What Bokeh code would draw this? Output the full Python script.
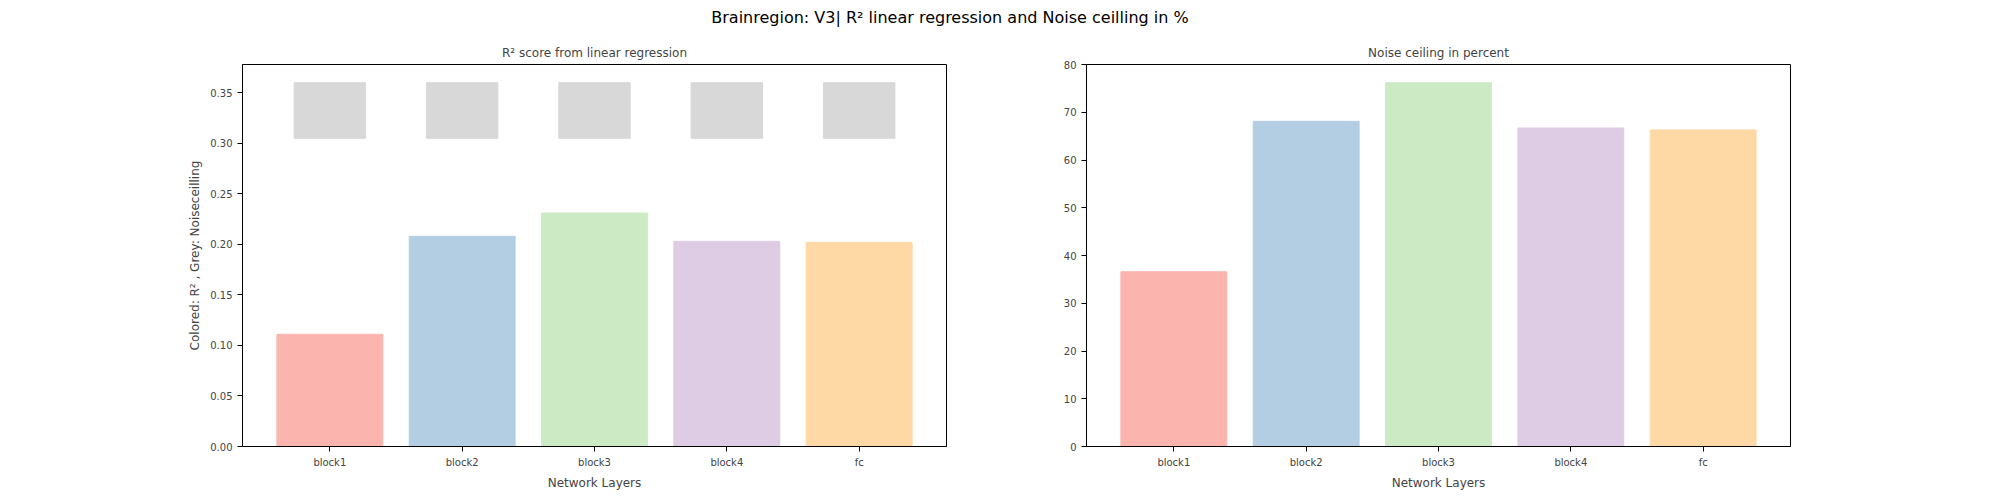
from bokeh.plotting import figure
from bokeh.layouts import column, row
from bokeh.models import Div, FixedTicker, Range1d
from bokeh.embed import file_html
from bokeh.resources import INLINE

layers = ["block1", "block2", "block3", "block4", "fc"]
r2_scores = [0.111, 0.208, 0.231, 0.203, 0.202]
nc_bottom = [0.305, 0.305, 0.305, 0.305, 0.305]
nc_top = [0.360, 0.360, 0.360, 0.360, 0.360]
noise_ceiling_pct = [36.6, 68.1, 76.2, 66.7, 66.3]
colors = ["#fbb4ae", "#b3cde3", "#ccebc5", "#decbe4", "#fed9a6"]

FONT = "DejaVu Sans"


def style(p, yticks):
    p.xgrid.visible = False
    p.ygrid.visible = False
    p.outline_line_color = "black"
    p.outline_line_width = 1
    p.x_range.range_padding = 0.064
    p.yaxis.ticker = FixedTicker(ticks=yticks)
    for ax in (p.xaxis, p.yaxis):
        ax.major_label_text_font = FONT
        ax.major_label_text_font_size = "10px"
        ax.axis_label_text_font = FONT
        ax.axis_label_text_font_size = "12px"
        ax.axis_label_text_font_style = "normal"
        ax.major_tick_out = 5
        ax.major_tick_in = 0
        ax.minor_tick_out = 0
        ax.minor_tick_in = 0
        ax.axis_line_color = "black"
    p.title.text_font = FONT
    p.title.text_font_size = "12px"
    p.title.text_font_style = "normal"
    p.title.align = "center"


p1 = figure(x_range=layers, width=996, height=454, output_backend="svg",
            toolbar_location=None, title="R² score from linear regression",
            min_border_left=242, min_border_right=50, min_border_top=24, min_border_bottom=45)
p1.y_range = Range1d(0, 0.378)
p1.vbar(x=layers, bottom=nc_bottom, top=nc_top, width=0.54, color="#d8d8d8")
p1.vbar(x=layers, top=r2_scores, width=0.8, color=colors)
p1.xaxis.axis_label = "Network Layers"
p1.yaxis.axis_label = "Colored: R² , Grey: Noiseceilling"
style(p1, [0, 0.05, 0.1, 0.15, 0.2, 0.25, 0.3, 0.35])
p1.yaxis.formatter.use_scientific = False
from bokeh.models import CustomJSTickFormatter
p1.yaxis.formatter = CustomJSTickFormatter(code="return tick.toFixed(2);")

p2 = figure(x_range=layers, width=894, height=454, output_backend="svg",
            toolbar_location=None, title="Noise ceiling in percent",
            min_border_left=90, min_border_right=100, min_border_top=24, min_border_bottom=45)
p2.y_range = Range1d(0, 80)
p2.vbar(x=layers, top=noise_ceiling_pct, width=0.8, color=colors)
p2.xaxis.axis_label = "Network Layers"
style(p2, [0, 10, 20, 30, 40, 50, 60, 70, 80])

title = Div(text="Brainregion: V3| R² linear regression and Noise ceilling in %",
            width=1890, height=28,
            styles={"text-align": "center", "font-family": FONT, "font-size": "16px",
                    "width": "1890px", "padding-top": "2px"})

layout = column(title, row(p1, p2))
open("out.html", "w").write(file_html(layout, INLINE))
